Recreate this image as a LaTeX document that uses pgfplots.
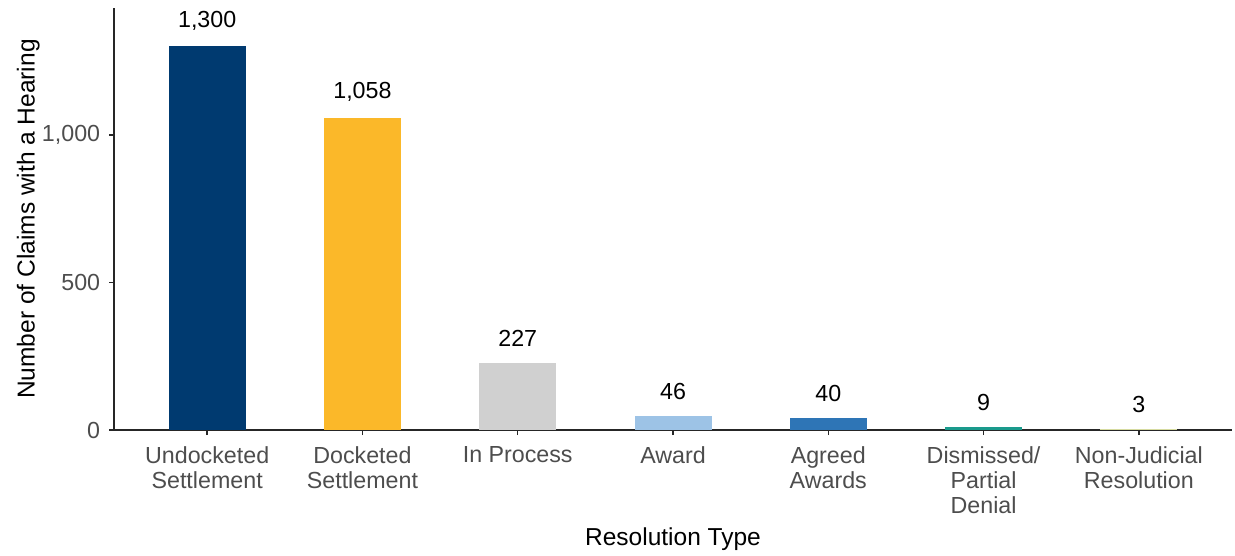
\documentclass[border=0pt]{standalone}
\usepackage{fontspec}
\setmainfont{Liberation Sans}
\usepackage{pgfplots}
\pgfplotsset{compat=1.18}
\definecolor{cA}{HTML}{003A70}
\definecolor{cB}{HTML}{FBB829}
\definecolor{cC}{HTML}{D0D0D0}
\definecolor{cD}{HTML}{9DC3E6}
\definecolor{cE}{HTML}{2E75B6}
\definecolor{cF}{HTML}{1A9A8C}
\definecolor{cG}{HTML}{D6DBA0}
\definecolor{tickgray}{HTML}{4D4D4D}
\begin{document}
\begin{tikzpicture}
\path[use as bounding box] (0pt,0pt) rectangle (494pt,222pt);
\begin{axis}[
  at={(45.6pt,50pt)}, anchor=south west,
  scale only axis, width=447.2pt, height=168.8pt,
  ybar, bar width=30.8pt,
  xmin=-0.6, xmax=6.6, ymin=0, ymax=1430,
  axis lines=left, axis line style={-, line width=0.6pt, black!85},
  xtick={0,1,2,3,4,5,6},
  xticklabels={Undocketed\\Settlement, Docketed\\Settlement, In Process, Award, Agreed\\Awards, Dismissed/\\Partial\\Denial, Non-Judicial\\Resolution},
  ytick={0,500,1000},
  tick align=outside, major tick length=2pt,
  tick style={line width=0.6pt, black!85},
  x tick label style={align=center, font=\fontsize{9.3}{10}\selectfont, text=tickgray, yshift=-1pt},
  y tick label style={font=\fontsize{9.3}{10}\selectfont, text=tickgray},
  /pgf/number format/assume math mode=true,
  /pgf/number format/1000 sep={,},
  xlabel={Resolution Type}, ylabel={Number of Claims with a Hearing},
  label style={font=\fontsize{9.8}{11}\selectfont},
  xlabel style={yshift=1pt},
  ylabel style={yshift=-6pt},
  nodes near coords,
  every node near coord/.append style={font=\fontsize{9.3}{10}\selectfont, text=black, yshift=3pt},
]
\addplot[fill=cA, draw=none, bar shift=0pt] coordinates {(0,1300)};
\addplot[fill=cB, draw=none, bar shift=0pt] coordinates {(1,1058)};
\addplot[fill=cC, draw=none, bar shift=0pt] coordinates {(2,227)};
\addplot[fill=cD, draw=none, bar shift=0pt] coordinates {(3,46)};
\addplot[fill=cE, draw=none, bar shift=0pt] coordinates {(4,40)};
\addplot[fill=cF, draw=none, bar shift=0pt] coordinates {(5,9)};
\addplot[fill=cG, draw=none, bar shift=0pt] coordinates {(6,3)};
\end{axis}
\end{tikzpicture}
\end{document}
